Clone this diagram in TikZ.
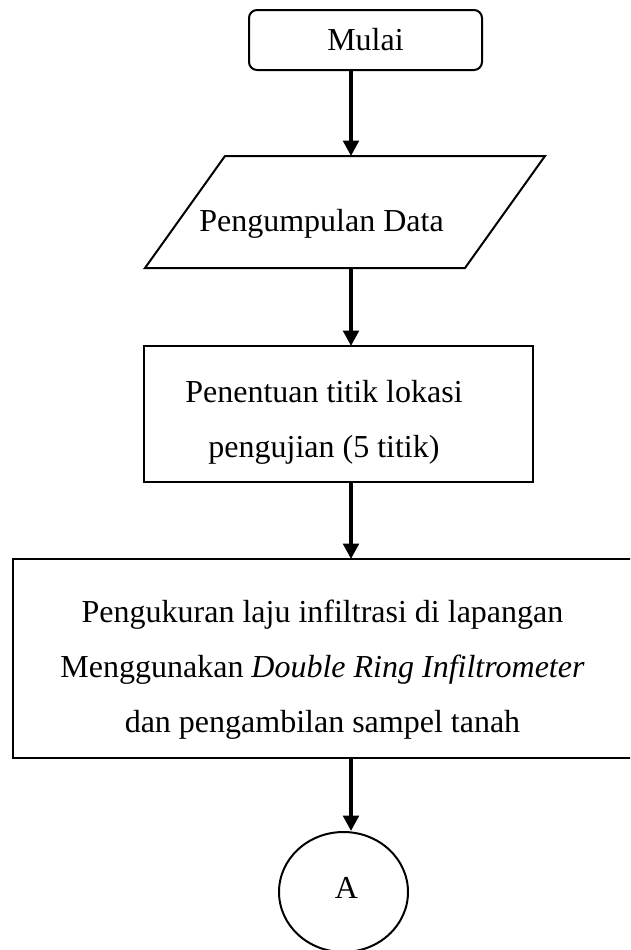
\documentclass[tikz,border=0pt]{standalone}
\usepackage{fontspec}
\setmainfont{Liberation Serif}
\usetikzlibrary{shapes.geometric,arrows.meta}

\begin{document}
\begin{tikzpicture}[x=0.375pt,y=-0.375pt,line width=0.75pt,
    >={Triangle[length=5.8pt,width=5.8pt]},
    font=\fontsize{12}{20.6}\selectfont]
  \tikzstyle{block}=[draw,rectangle,inner sep=0pt,outer sep=0pt,align=center]
  \tikzstyle{flow}=[->,line width=1.5pt]
  \def\px{0.375pt}	% one grid step
  \def\ax{351}	% x of the arrow column
  \def\sl{80}	% slant of the data box
  \useasboundingbox (0,0) rectangle (630,950);
  \clip (0,0) rectangle (630,950);
  \coordinate (col) at (\ax,0);

  \node[block,rounded corners=3pt,minimum width=233*\px,minimum height=60*\px] (start) at (365.5,40) {Mulai};
  \node[block,draw=none,minimum width=400*\px,minimum height=112*\px,
        label={[shift={(-23.5,12)}]center:Pengumpulan Data}] (data) at (345,212) {};
  \draw (data.south west) -- ++(\sl,-112) -- (data.north east) -- ++(-\sl,112) -- cycle;
  \node[block,minimum width=389*\px,minimum height=136*\px,
        label={[shift={(-14.5,8)},align=center]center:Penentuan titik lokasi\\pengujian (5 titik)}] (site) at (338.5,414) {};
  \node[block,minimum width=619*\px,minimum height=199*\px,
        label={[shift={(0,11)},align=center]center:Pengukuran laju infiltrasi di lapangan\\
          Menggunakan \textit{Double Ring Infiltrometer}\\dan pengambilan sampel tanah}] (measure) at (322.5,658.5) {};
  \node[draw,ellipse,inner sep=0pt,minimum width=129*\px,minimum height=120*\px,
        label={[shift={(3,-4)}]center:A}] (conn) at (343.5,892) {};

  \draw[flow] (start.south -| col) -- (data.north -| col);
  \draw[flow] (data.south -| col) -- (site.north -| col);
  \draw[flow] (site.south -| col) -- (measure.north -| col);
  \draw[flow] (measure.south -| col) -- (conn.north -| col);
\end{tikzpicture}
\end{document}
